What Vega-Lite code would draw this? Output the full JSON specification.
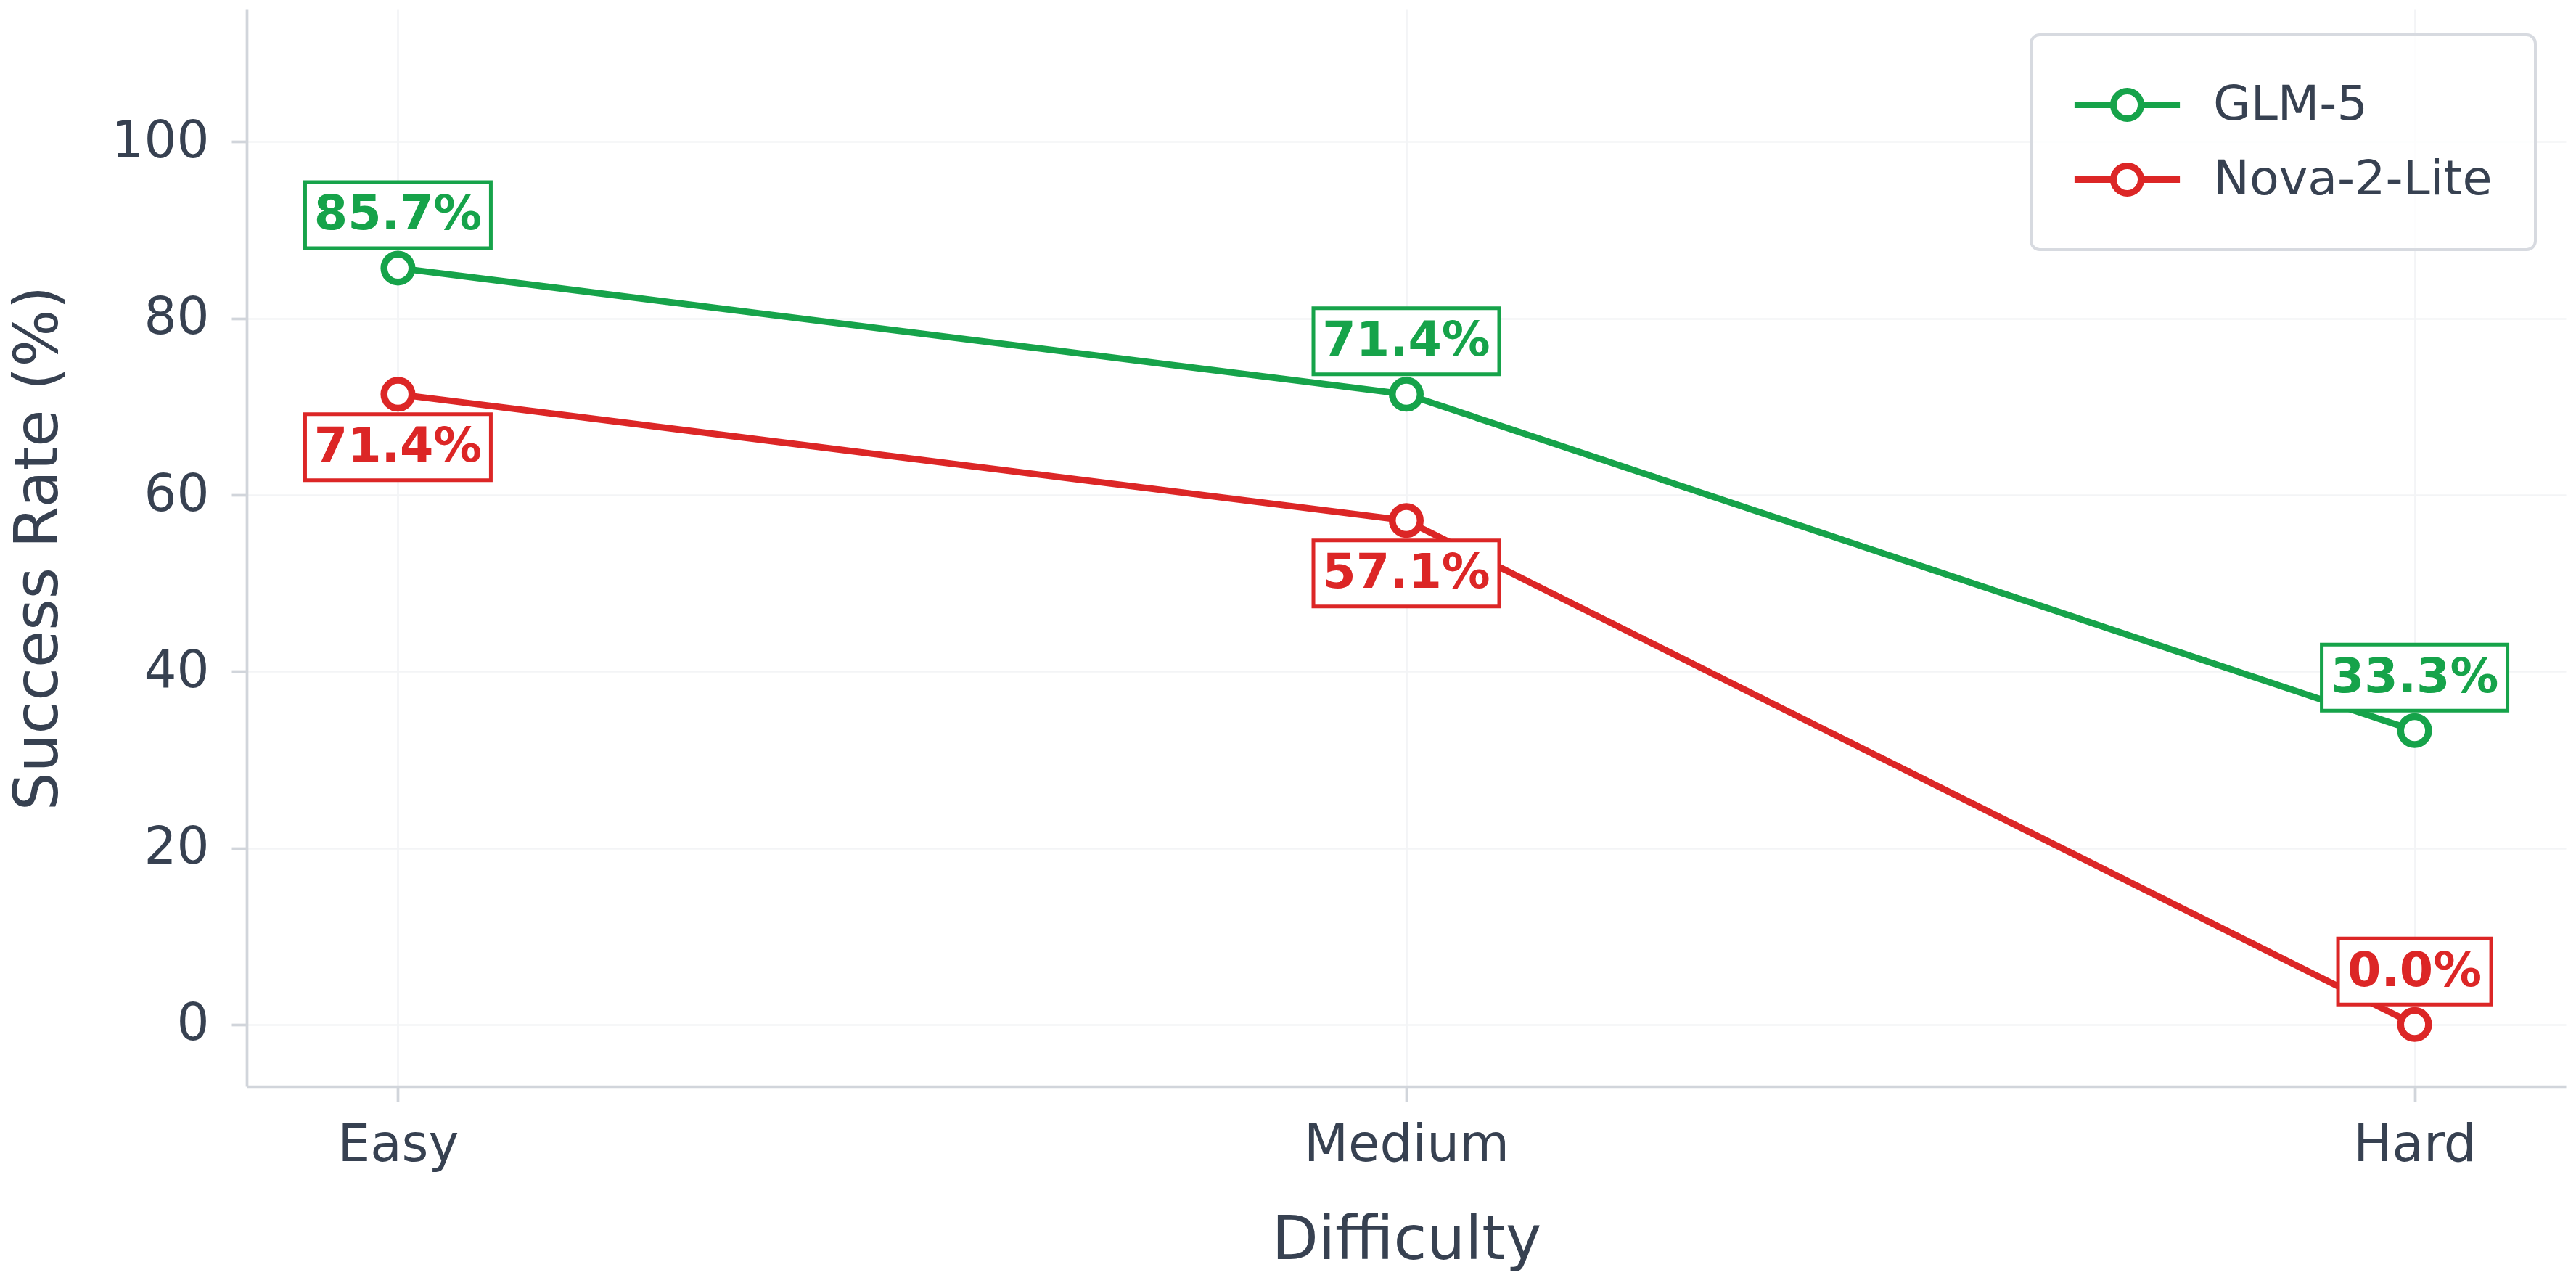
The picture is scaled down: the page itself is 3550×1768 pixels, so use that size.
{
  "$schema": "https://vega.github.io/schema/vega-lite/v6.json",
  "width": 3196,
  "height": 1484,
  "autosize": {"type": "none"},
  "padding": {"left": 340, "top": 13, "right": 14, "bottom": 271},
  "background": "white",
  "config": {
    "font": "DejaVu Sans",
    "view": {"stroke": null},
    "axis": {
      "domainColor": "#d1d5db", "domainWidth": 3.7,
      "tickColor": "#d1d5db", "tickWidth": 3.7, "tickSize": 21,
      "gridColor": "#f3f4f6", "gridWidth": 2.7,
      "labelColor": "#374151", "labelFontSize": 70.8, "labelFont": "DejaVu Sans", "labelLimit": 0,
      "titleColor": "#374151", "titleFontSize": 83.3, "titleFontWeight": "normal", "titleFont": "DejaVu Sans"
    },
    "legend": {"strokeWidth": 4}
  },
  "data": {
    "values": [
      {"difficulty": "Easy", "model": "GLM-5", "rate": 85.7},
      {"difficulty": "Medium", "model": "GLM-5", "rate": 71.4},
      {"difficulty": "Hard", "model": "GLM-5", "rate": 33.3},
      {"difficulty": "Easy", "model": "Nova-2-Lite", "rate": 71.4},
      {"difficulty": "Medium", "model": "Nova-2-Lite", "rate": 57.1},
      {"difficulty": "Hard", "model": "Nova-2-Lite", "rate": 0.0}
    ]
  },
  "encoding": {
    "x": {
      "field": "difficulty", "type": "ordinal",
      "scale": {"type": "point", "domain": ["Easy", "Medium", "Hard"], "padding": 0.15},
      "axis": {"title": "Difficulty", "labelAngle": 0, "grid": true, "labelPadding": 25, "titlePadding": 56}
    },
    "y": {
      "field": "rate", "type": "quantitative",
      "scale": {"domain": [-7, 115], "nice": false, "zero": false},
      "axis": {"title": "Success Rate (%)", "values": [0, 20, 40, 60, 80, 100], "grid": true, "labelPadding": 31, "titlePadding": 57}
    }
  },
  "layer": [
    {
      "mark": {"type": "line", "strokeWidth": 9},
      "encoding": {
        "color": {
          "field": "model", "type": "nominal",
          "scale": {"domain": ["GLM-5", "Nova-2-Lite"], "range": ["#16a34a", "#dc2626"]},
          "legend": {
            "title": null,
            "orient": "none", "legendX": 2459, "legendY": 35,
            "padding": 59,
            "strokeColor": "#d7dae0",
            "fillColor": "rgba(255,255,255,0.8)",
            "cornerRadius": 12,
            "labelFontSize": 66.7, "labelColor": "#374151", "labelFont": "DejaVu Sans", "labelLimit": 0,
            "symbolType": "M-2.2,0H-0.576A0.576,0.576,0,1,1,0.576,0A0.576,0.576,0,1,1,-0.576,0M0.576,0H2.2",
            "symbolSize": 4356,
            "symbolStrokeWidth": 9,
            "symbolFillColor": "white",
            "symbolOffset": 36,
            "labelOffset": 81,
            "rowPadding": 28
          }
        }
      }
    },
    {
      "mark": {"type": "point", "filled": true, "fill": "white", "size": 1482, "strokeWidth": 9.5, "opacity": 1},
      "encoding": {
        "stroke": {
          "field": "model", "type": "nominal",
          "scale": {"domain": ["GLM-5", "Nova-2-Lite"], "range": ["#16a34a", "#dc2626"]},
          "legend": null
        }
      }
    },
    {
      "transform": [{"filter": "datum.model == 'GLM-5' || datum.rate == 0"}],
      "layer": [
        {
          "mark": {"type": "point", "filled": true, "fill": "white", "size": 8281, "strokeWidth": 5, "opacity": 1, "yOffset": -73},
          "encoding": {
            "stroke": {"field": "model", "type": "nominal", "legend": null},
            "shape": {
              "condition": {"test": "datum.rate == 0", "value": "M-2.319,-1H2.319V1H-2.319Z"},
              "value": "M-2.813,-1H2.813V1H-2.813Z"
            }
          }
        },
        {
          "mark": {
            "type": "text", "fontSize": 66.7, "fontWeight": "bold", "baseline": "middle", "yOffset": -73,
            "fill": {"expr": "scale('color', datum.model)"},
            "text": {"expr": "format(datum.rate, '.1f') + '%'"}
          },
          "encoding": {}
        }
      ]
    },
    {
      "transform": [{"filter": "!(datum.model == 'GLM-5' || datum.rate == 0)"}],
      "layer": [
        {
          "mark": {"type": "point", "filled": true, "fill": "white", "size": 8281, "strokeWidth": 5, "opacity": 1, "yOffset": 73},
          "encoding": {
            "stroke": {"field": "model", "type": "nominal", "legend": null},
            "shape": {"value": "M-2.813,-1H2.813V1H-2.813Z"}
          }
        },
        {
          "mark": {
            "type": "text", "fontSize": 66.7, "fontWeight": "bold", "baseline": "middle", "yOffset": 73,
            "fill": {"expr": "scale('color', datum.model)"},
            "text": {"expr": "format(datum.rate, '.1f') + '%'"}
          },
          "encoding": {}
        }
      ]
    }
  ]
}
